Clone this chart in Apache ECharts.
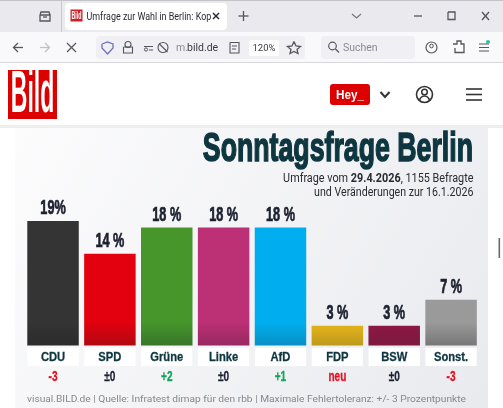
<!DOCTYPE html>
<html>
<head>
<meta charset="utf-8">
<style>html,body{margin:0;padding:0;background:#fff;overflow:hidden}#main{width:503px;height:408px}</style>
<script src="https://cdn.jsdelivr.net/npm/echarts@6/dist/echarts.min.js"></script>
</head>
<body>
<div id="main"></div>
<script>
// chart data
var parties = ['CDU', 'SPD', 'Grüne', 'Linke', 'AfD', 'FDP', 'BSW', 'Sonst.'];
var shares = [19, 14, 18, 18, 18, 3, 3, 7];
var shareLabels = ['19%', '14 %', '18 %', '18 %', '18 %', '3 %', '3 %', '7 %'];
var changes = ['-3', '±0', '+2', '±0', '+1', 'neu', '±0', '-3'];
var barColors = ['#343434', '#e3000f', '#46962b', '#bc3076', '#00aeef', '#e8b618', '#8e1843', '#9a9a9a'];
var barShades = ['#2b2b2b', '#b00a12', '#37752a', '#96295f', '#0a8fc4', '#bd9a1e', '#7c1a3e', '#767676'];

var HEAVY = '"Liberation Sans",sans-serif';
var UI = 'Roboto,"Open Sans",sans-serif';
var INK = '#1c2130';
var TEAL = '#0e3640';
var ICON = '#55555f';

function changeColor(c) {
  if (c === '±0') return INK;
  if (c.charAt(0) === '+') return '#12a65c';
  return '#e3101f';
}

function rect(x, y, w, h, fill, r) {
  return { type: 'rect', shape: { x: x, y: y, width: w, height: h, r: r || 0 }, style: { fill: fill }, silent: true };
}
function line(x1, y1, x2, y2, color, width) {
  return { type: 'line', shape: { x1: x1, y1: y1, x2: x2, y2: y2 }, style: { stroke: color, lineWidth: width || 1.3 }, silent: true };
}
function poly(points, color, width) {
  return { type: 'polyline', shape: { points: points }, style: { stroke: color, lineWidth: width || 1.3, fill: null }, silent: true };
}
function ring(cx, cy, r, color, width) {
  return { type: 'circle', shape: { cx: cx, cy: cy, r: r }, style: { stroke: color, lineWidth: width || 1.3, fill: 'none' }, silent: true };
}
function label(text, x, y, font, fill, align, sx, sy, heavy) {
  return {
    type: 'text', x: x, y: y, scaleX: sx || 1, scaleY: sy || 1, silent: true,
    style: {
      text: text, font: font, fill: fill, align: align || 'left', verticalAlign: 'middle',
      stroke: heavy ? fill : null, lineWidth: heavy || 0
    }
  };
}

var chrome = [
  // page background
  { type: 'rect', shape: { x: 15, y: 126, width: 473, height: 282 }, silent: true,
    style: { fill: new echarts.graphic.LinearGradient(0, 0, 1, 1, [
      { offset: 0, color: '#fcfcfd' }, { offset: 1, color: '#e9eaee' }]) } },
  rect(0, 124, 503, 4, '#eeeeee'),
  rect(0, 62, 503, 63, '#ffffff'),
  // tab strip
  rect(0, 0, 503, 32, '#e9e9ee'),
  line(0, 0.5, 503, 0.5, '#c4c4c8', 1),
  line(61.5, 0, 61.5, 32, '#c9c9ce', 1),
  rect(65, 3, 162, 27, '#ffffff', 4),
  rect(70.5, 9.5, 12, 12, '#cf1f26'),
  label('Bild', 76.5, 15.8, 'bold 10px ' + HEAVY, '#ffffff', 'center', 0.53, 1.1),
  label('Umfrage zur Wahl in Berlin: Kop', 86.5, 17, '10.5px ' + UI, '#2b2a33', 'left', 0.85),
  line(213, 13, 219, 19, '#2b2a33', 1.5), line(219, 13, 213, 19, '#2b2a33', 1.5),
  line(243.5, 11, 243.5, 21, ICON), line(238.5, 16, 248.5, 16, ICON),
  poly([[40, 15], [50, 15], [50, 21], [40, 21], [40, 15]], ICON),
  poly([[40, 15], [41, 12], [49, 12], [50, 15]], ICON), line(43, 17, 47, 17, ICON),
  poly([[352, 14], [356.5, 18], [361, 14]], '#777780'),
  line(414, 16, 422, 16, ICON),
  poly([[448, 12], [455, 12], [455, 19.5], [448, 19.5], [448, 12]], ICON),
  line(482, 12, 489, 20, ICON), line(489, 12, 482, 20, ICON),
  // toolbar
  rect(0, 32, 503, 30, '#f9f9fb'),
  line(0, 62.5, 503, 62.5, '#d8d8dc', 1),
  poly([[23, 47.5], [14, 47.5]], ICON), poly([[18, 43], [13.5, 47.5], [18, 52]], ICON),
  poly([[40, 47.5], [49, 47.5]], '#c0c0c6'), poly([[45, 43], [49.5, 47.5], [45, 52]], '#c0c0c6'),
  line(67, 43, 76, 52, ICON), line(76, 43, 67, 52, ICON),
  rect(96, 36, 209, 23, '#f0f0f4', 4),
  poly([[102, 44], [107.5, 42], [113, 44], [113, 48], [107.5, 54], [102, 48], [102, 44]], '#6a72b8'),
  ring(128, 44.5, 3, ICON, 1.1),
  poly([[123.5, 47], [132.5, 47], [132.5, 53], [123.5, 53], [123.5, 47]], ICON, 1.1),
  ring(146, 49.5, 1.6, ICON, 1), line(144, 46.5, 153, 46.5, ICON, 1), line(149, 50, 153, 50, ICON, 1),
  ring(163, 47.5, 5, ICON, 1.1), line(159, 43.5, 167.5, 52, ICON, 1.1),
  label('m.', 176, 48.5, '10.5px ' + UI, '#8a8a92'),
  label('bild.de', 187, 48.5, '10.5px ' + UI, '#3a3a44'),
  poly([[230, 42.5], [239, 42.5], [239, 53], [230, 53], [230, 42.5]], ICON, 1.1),
  line(232, 46, 237, 46, ICON, 1), line(232, 49, 236, 49, ICON, 1),
  rect(249, 40, 30, 16, '#ffffff', 2),
  label('120%', 264, 48.5, '9.5px ' + UI, '#3a3a44', 'center'),
  poly([[294, 41.5], [296, 46], [300.5, 46.5], [297, 49.5], [298, 53.5], [294, 51.5], [290, 53.5], [291, 49.5], [287.5, 46.5], [292, 46], [294, 41.5]], ICON),
  rect(321, 36, 94, 23, '#f0f0f4', 4),
  ring(332.5, 46, 3.8, ICON, 1.2), line(335.5, 49, 339, 52.5, ICON, 1.2),
  label('Suchen', 343, 48.5, '10.5px ' + UI, '#8a8a92'),
  ring(431.5, 47.5, 5.5, ICON, 1.2), ring(431.5, 46, 1.8, ICON, 1),
  poly([[453, 44], [457, 44], [457, 41], [461, 41], [461, 44], [464, 44], [464, 52.5], [455, 52.5], [455, 48]], ICON),
  line(479, 44, 489, 44, ICON, 1), line(479, 47.5, 489, 47.5, ICON, 1), line(479, 51, 489, 51, ICON, 1),
  { type: 'circle', shape: { cx: 488, cy: 42, r: 2 }, style: { fill: '#2ac3a2' }, silent: true },
  // site header
  rect(8, 70, 49, 49, '#dd0000'),
  label('Bild', 32.5, 96, 'bold 46px ' + HEAVY, '#ffffff', 'center', 0.5, 1.27),
  rect(330, 84, 40, 21, '#dd0000', 3),
  label('Hey_', 350, 95, 'bold 13px ' + HEAVY, '#ffffff', 'center', 0.9),
  poly([[380.5, 92], [385, 97], [389.5, 92]], '#333333', 2),
  ring(424.5, 94.5, 8, '#333333', 1.6), ring(424.5, 92, 2.8, '#333333', 1.5),
  { type: 'arc', shape: { cx: 424.5, cy: 101, r: 5, startAngle: Math.PI, endAngle: 0 }, style: { stroke: '#333333', lineWidth: 1.5, fill: 'none' }, silent: true },
  line(466, 89, 482, 89, '#333333', 1.6), line(466, 94.5, 482, 94.5, '#333333', 1.6), line(466, 100, 482, 100, '#333333', 1.6),
  // scrollbar thumb
  rect(498.5, 238, 1.6, 20, '#6b6b6b'),
  // heading
  label('Sonntagsfrage Berlin', 473, 150, 'bold 39px ' + HEAVY, TEAL, 'right', 0.685, 1.06, 1.5),
  { type: 'text', x: 473.5, y: 178.5, scaleX: 0.867, silent: true, style: {
      text: '{a|Umfrage vom }{b|29.4.2026}{a|, 1155 Befragte}', align: 'right', verticalAlign: 'middle',
      rich: { a: { font: '12.5px ' + UI, fill: '#2a2a32' }, b: { font: 'bold 12.5px ' + UI, fill: '#2a2a32' } } } },
  label('und Veränderungen zur 16.1.2026', 473.5, 193, '12.5px ' + UI, '#2a2a32', 'right', 0.85),
  // source line
  label('visual.BILD.de | Quelle: Infratest dimap für den rbb | Maximale Fehlertoleranz: +/- 3 Prozentpunkte',
    27, 400, '9px ' + UI, '#85878e', 'left', 1.133)
];

var bars = shares.map(function (v, i) {
  return {
    value: v,
    itemStyle: {
      color: new echarts.graphic.LinearGradient(0, 322, 0, 346, [
        { offset: 0, color: barColors[i] }, { offset: 1, color: barShades[i] }], true)
    }
  };
});

// labels need horizontal squeezing, so they go through a custom series on the same axes
function squeezed(text, x, y, size, scale, fill, heavy) {
  return {
    type: 'text', x: x, y: y, scaleX: scale,
    style: {
      text: text, font: 'bold ' + size + 'px ' + HEAVY, fill: fill, align: 'center', verticalAlign: 'bottom',
      stroke: fill, lineWidth: heavy
    }
  };
}
function renderLabels(params, api) {
  var i = api.value(0);
  var top = api.coord([i, shares[i]]);
  var base = api.coord([i, 0]);
  return {
    type: 'group',
    children: [
      squeezed(shareLabels[i], top[0], top[1] - 2, 19.5, 0.65, INK, 0.7),
      { type: 'rect', shape: { x: base[0] - 25.6, y: base[1] + 2.2, width: 51.2, height: 18.3 }, style: { fill: '#ffffff' } },
      squeezed(parties[i], base[0], base[1] + 19, 13.5, 0.83, TEAL, 0.3),
      squeezed(changes[i], base[0], base[1] + 39, 14, 0.72, changeColor(changes[i]), 0.3)
    ]
  };
}

var myChart = echarts.init(document.getElementById('main'));
myChart.setOption({
  animation: false,
  backgroundColor: '#ffffff',
  graphic: { elements: chrome },
  grid: { left: 24.6, right: 23.5, top: 201.4, bottom: 62.5 },
  xAxis: {
    type: 'category',
    data: parties,
    axisLine: { show: false },
    axisTick: { show: false },
    axisLabel: { show: false }
  },
  yAxis: { type: 'value', min: 0, max: 22, show: false, splitLine: { show: false } },
  series: [{
    type: 'bar',
    data: bars,
    barWidth: 51.5
  }, {
    type: 'custom',
    data: parties.map(function (p, i) { return [i]; }),
    encode: { x: 0 },
    clip: false,
    silent: true,
    z: 5,
    renderItem: renderLabels
  }]
});
</script>
</body>
</html>
